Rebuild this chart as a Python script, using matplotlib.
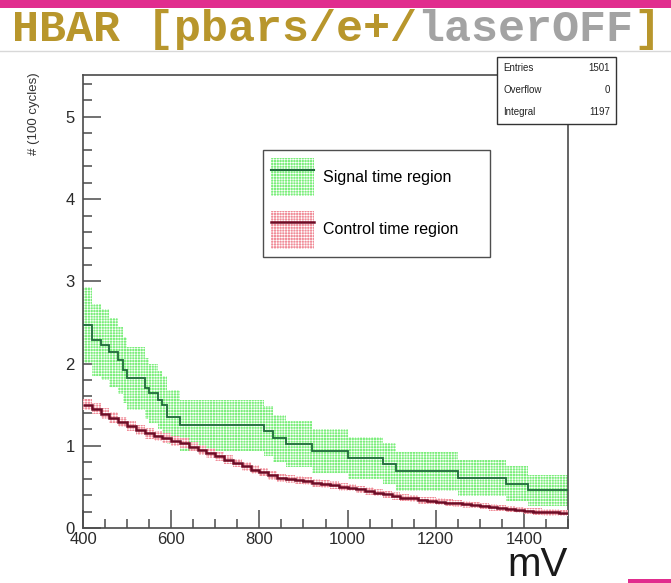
import matplotlib
matplotlib.use("Agg")
import matplotlib.pyplot as plt
from matplotlib.patches import Patch, Rectangle
from matplotlib.lines import Line2D
import numpy as np

# ---------------- data ----------------
sig_edges = [400, 420, 440, 460, 480, 490, 500, 540, 550, 570, 580, 590, 620,
             810, 830, 860, 920, 1000, 1080, 1110, 1250, 1360, 1410, 1500]
sig_values = [2.47, 2.29, 2.23, 2.14, 2.04, 1.92, 1.82, 1.70, 1.64, 1.56, 1.50,
              1.35, 1.25, 1.18, 1.09, 1.02, 0.94, 0.85, 0.78, 0.69, 0.61, 0.54, 0.46]
sig_errors = [0.46, 0.44, 0.43, 0.42, 0.41, 0.40, 0.38, 0.37, 0.36, 0.35, 0.35,
              0.33, 0.31, 0.31, 0.29, 0.28, 0.27, 0.26, 0.25, 0.24, 0.22, 0.21, 0.19]

ctl_edges = list(range(400, 1501, 20))
ctl_values = [1.50, 1.45, 1.39, 1.34, 1.29, 1.24, 1.19, 1.15, 1.12, 1.09,
              1.06, 1.03, 0.99, 0.95, 0.91, 0.87, 0.83, 0.79, 0.75, 0.71,
              0.68, 0.64, 0.61, 0.60, 0.58, 0.57, 0.55, 0.54, 0.52, 0.50,
              0.49, 0.47, 0.45, 0.43, 0.41, 0.39, 0.37, 0.36, 0.34, 0.33,
              0.32, 0.31, 0.30, 0.29, 0.28, 0.27, 0.25, 0.24, 0.23, 0.22,
              0.21, 0.20, 0.19, 0.19, 0.18]
ctl_errors = [0.070, 0.068, 0.067, 0.066, 0.065, 0.064, 0.063, 0.062, 0.061, 0.060,
              0.060, 0.059, 0.058, 0.057, 0.057, 0.056, 0.055, 0.054, 0.053, 0.052,
              0.052, 0.051, 0.050, 0.050, 0.049, 0.049, 0.048, 0.048, 0.047, 0.046,
              0.046, 0.046, 0.045, 0.045, 0.044, 0.044, 0.043, 0.043, 0.042, 0.042,
              0.042, 0.041, 0.041, 0.041, 0.040, 0.040, 0.040, 0.039, 0.039, 0.039,
              0.038, 0.038, 0.038, 0.038, 0.037]

legend_labels = ["Signal time region", "Control time region"]
stats_names = ["Entries", "Overflow", "Integral"]
stats_values = ["1501", "0", "1197"]
x_ticks = [400, 600, 800, 1000, 1200, 1400]
y_ticks = [0, 1, 2, 3, 4, 5]

# ---------------- style ----------------
W, H = 671, 583
plt.rcParams['font.family'] = ['Liberation Sans', 'DejaVu Sans']
plt.rcParams['hatch.linewidth'] = 0.45

GREEN_FACE = '#7BEE7B'
GREEN_LINE = '#1F6B3A'
PINK_FACE = '#F08C98'
RED_LINE = '#6E0C26'
AX_COL = '#4a4a4a'
HATCH = '++++++'

fig = plt.figure(figsize=(W / 100, H / 100), dpi=100)
fig.patch.set_facecolor('white')


def fx(px):
    return px / W


def fy(py):
    return 1 - py / H


# header decorations
fig.patches.append(Rectangle((0, fy(8)), 1, 8 / H, transform=fig.transFigure,
                             facecolor='#E12D8E', edgecolor='none'))
fig.add_artist(Line2D([0, 1], [fy(51), fy(51)], transform=fig.transFigure,
                      color='#d8d8d8', lw=1.0))
fig.patches.append(Rectangle((fx(628), 0), 1 - fx(628), 4 / H, transform=fig.transFigure,
                             facecolor='#E12D8E', edgecolor='none'))

# title pieces
title_parts = [("HBAR [pbars/e+/", '#B8962C'), ("laserOFF", '#A3A3A3'), ("]", '#B8962C')]
tx = 12
char_w = 27.0
for txt, col in title_parts:
    fig.text(fx(tx), fy(41), txt, fontsize=32.4, family='Liberation Mono',
             weight='bold', color=col, ha='left', va='baseline')
    tx += char_w * len(txt)

# axes
ax_left, ax_right, ax_top, ax_bottom = 83, 568, 75, 528
ax = fig.add_axes([fx(ax_left), fy(ax_bottom), (ax_right - ax_left) / W,
                   (ax_bottom - ax_top) / H])
ax.set_xlim(400, 1500)
ax.set_ylim(0, 5.51)

# signal band + line
sig_lo = [v - e for v, e in zip(sig_values, sig_errors)]
sig_hi = [v + e for v, e in zip(sig_values, sig_errors)]
ax.stairs(sig_hi, sig_edges, baseline=sig_lo, fill=True, facecolor=GREEN_FACE,
          edgecolor='white', hatch=HATCH, linewidth=0, zorder=2)
ax.stairs(sig_values, sig_edges, baseline=None, color=GREEN_LINE, linewidth=1.3,
          zorder=4)

# control band + line
ctl_lo = [v - e for v, e in zip(ctl_values, ctl_errors)]
ctl_hi = [v + e for v, e in zip(ctl_values, ctl_errors)]
ax.stairs(ctl_hi, ctl_edges, baseline=ctl_lo, fill=True, facecolor=PINK_FACE,
          edgecolor='white', hatch=HATCH, linewidth=0, zorder=3)
ax.stairs(ctl_values, ctl_edges, baseline=None, color=RED_LINE, linewidth=1.8,
          zorder=5)

# ticks
ax.set_xticks(x_ticks)
ax.set_xticks(np.arange(400, 1501, 50), minor=True)
ax.set_yticks(y_ticks)
ax.set_yticks(np.arange(0, 5.51, 0.2), minor=True)
ax.tick_params(which='both', direction='in', top=False, right=False, color=AX_COL,
               width=1.1, labelcolor='#2a2a2a', labelsize=12)
ax.tick_params(which='major', length=13)
ax.tick_params(which='minor', length=6.5)
ax.tick_params(axis='x', pad=3)
ax.tick_params(axis='y', pad=6)
for s in ax.spines.values():
    s.set_color(AX_COL)
    s.set_linewidth(1.2)

# y label and x unit
fig.text(fx(34), fy(72), "# (100 cycles)", rotation=90, ha='center', va='top',
         fontsize=9.5, color='#333333')
fig.text(fx(568), fy(576), "mV", ha='right', va='baseline', fontsize=29,
         color='#1a1a1a')

# legend
handles = [(Patch(facecolor=GREEN_FACE, edgecolor='white', hatch=HATCH, linewidth=0),
            Line2D([], [], color=GREEN_LINE, lw=1.5)),
           (Patch(facecolor=PINK_FACE, edgecolor='white', hatch=HATCH, linewidth=0),
            Line2D([], [], color=RED_LINE, lw=1.8))]
leg = ax.legend(handles, legend_labels, loc='upper left',
                bbox_to_anchor=(fx(263), fy(253), (490 - 263) / W, (253 - 150) / H),
                bbox_transform=fig.transFigure, mode='expand', borderaxespad=0,
                fontsize=11.5, handlelength=2.7, handleheight=3.3, handletextpad=0.55,
                labelspacing=0.9, borderpad=0.5, fancybox=False, frameon=True)
leg.get_frame().set_edgecolor('#222222')
leg.get_frame().set_linewidth(1.0)
leg.set_zorder(10)

# stats box
sb_l, sb_r, sb_t, sb_b = 497, 616, 57, 124
fig.patches.append(Rectangle((fx(sb_l), fy(sb_b)), (sb_r - sb_l) / W, (sb_b - sb_t) / H,
                             transform=fig.transFigure, facecolor='white',
                             edgecolor='#333333', linewidth=1.0, zorder=20))
row_y = [68, 90, 112]
for name, val, yy in zip(stats_names, stats_values, row_y):
    fig.text(fx(503), fy(yy), name, ha='left', va='center', fontsize=7, color='#222222',
             zorder=21)
    fig.text(fx(610), fy(yy), val, ha='right', va='center', fontsize=7, color='#222222',
             zorder=21)

fig.savefig("out.png", dpi=100)
